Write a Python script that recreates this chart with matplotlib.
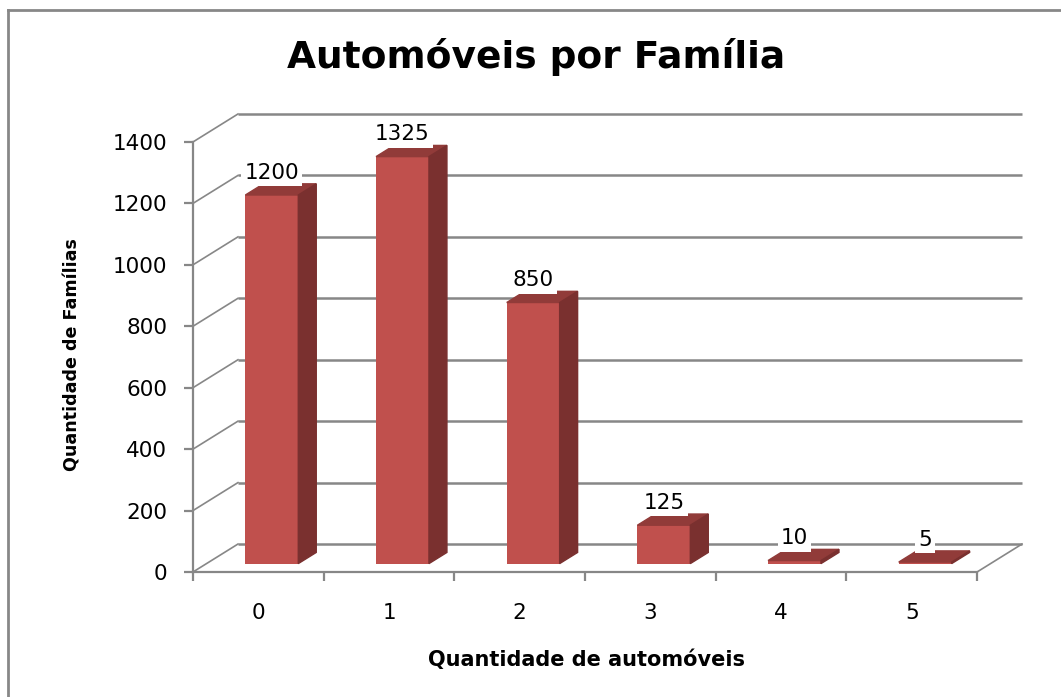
import matplotlib
matplotlib.use("Agg")
import matplotlib.pyplot as plt
from matplotlib.lines import Line2D
from matplotlib.patches import Polygon
import numpy as np

categories = ["0", "1", "2", "3", "4", "5"]
familias = [1200, 1325, 850, 125, 10, 5]
y_ticks = [0, 200, 400, 600, 800, 1000, 1200, 1400]

title = "Automóveis por Família"
x_label = "Quantidade de automóveis"
y_label = "Quantidade de Famílias"

# fake 3D: how far the back wall sits behind the front axes (data units)
DEPTH_X = 0.344
DEPTH_Y = 91
GRID = "#878787"
FRONT = "#C0504D"
SIDE = "#7A302F"
TOP = "#913B39"

W, H = 1061, 697
fig = plt.figure(figsize=(W / 100, H / 100), dpi=100)
ax = fig.add_axes([193 / W, 125 / H, 829 / W, 458 / H])
ax.set_facecolor("none")

x = np.arange(len(categories))
left, right = -0.5, len(categories) - 0.5
ax.set_xlim(left, right + DEPTH_X)
ax.set_ylim(0, y_ticks[-1] + DEPTH_Y)

# back wall gridlines + left wall diagonals
for v in y_ticks:
    ax.plot([left + DEPTH_X, right + DEPTH_X], [v + DEPTH_Y] * 2,
            color=GRID, lw=1.8, zorder=1, clip_on=False, solid_capstyle="butt")
    ax.plot([left, left + DEPTH_X], [v, v + DEPTH_Y],
            color=GRID, lw=1.2, zorder=1, clip_on=False)
ax.plot([right, right + DEPTH_X], [0, DEPTH_Y], color=GRID, lw=1.2, zorder=1, clip_on=False)

# bars sit in the middle of the floor depth
bar_w = 0.405
off_x, off_y = 0.3 * DEPTH_X, 0.3 * DEPTH_Y
dep_x, dep_y = 0.4 * DEPTH_X, 0.4 * DEPTH_Y
xs = x + off_x
ax.bar(xs, familias, width=bar_w, bottom=off_y, color=FRONT, zorder=3)
for xi, v in zip(xs, familias):
    x0, x1 = xi - bar_w / 2, xi + bar_w / 2
    top = off_y + v
    ax.add_patch(Polygon([(x0, top), (x1, top), (x1 + dep_x, top + dep_y), (x0 + dep_x, top + dep_y)],
                         closed=True, color=TOP, zorder=3))
    ax.add_patch(Polygon([(x1, off_y), (x1, top), (x1 + dep_x, top + dep_y), (x1 + dep_x, off_y + dep_y)],
                         closed=True, color=SIDE, zorder=3))
    ax.annotate(f"{v}", (xi, top), xytext=(0, 16), textcoords="offset points",
                ha="center", va="center", fontsize=15.5, zorder=5,
                bbox=dict(boxstyle="square,pad=0.15", fc="white", ec="none"))

# axes / ticks
for s in ("top", "right"):
    ax.spines[s].set_visible(False)
ax.spines["left"].set_bounds(0, y_ticks[-1])
ax.spines["bottom"].set_bounds(left, right)
for s in ("left", "bottom"):
    ax.spines[s].set_color(GRID)
    ax.spines[s].set_linewidth(1.6)
    ax.spines[s].set_zorder(4)

ax.set_xticks(x, categories)
ax.set_xticks(np.arange(len(categories) + 1) - 0.5, minor=True)
ax.tick_params(axis="x", which="major", length=0, pad=22, labelsize=15.5)
ax.tick_params(axis="x", which="minor", length=6.5, width=1.6, color=GRID, direction="out")
ax.set_yticks(y_ticks)
ax.tick_params(axis="y", length=6.5, width=1.6, color=GRID, pad=12, labelsize=15.5)

fig.text(536 / W, 1 - 57 / H, title, ha="center", va="center", fontsize=27, fontweight="bold")
fig.text(586 / W, 1 - 660 / H, x_label, ha="center", va="center", fontsize=15, fontweight="bold")
fig.text(72 / W, 1 - 355 / H, y_label, ha="center", va="center", fontsize=12.6,
         fontweight="bold", rotation=90)

# chart area frame, cut off on the right and bottom
fig.add_artist(Line2D([8 / W, 8 / W], [0, 1 - 10 / H], color=GRID, lw=2))
fig.add_artist(Line2D([8 / W, 1], [1 - 10 / H, 1 - 10 / H], color=GRID, lw=2))

fig.savefig("out.png", dpi=100, facecolor="white")
